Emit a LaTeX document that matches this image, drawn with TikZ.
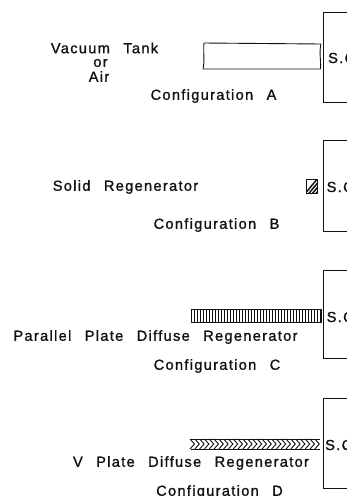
\documentclass[tikz,border=0pt]{standalone}
\usepackage{fontspec}
\setmainfont[LetterSpace=9,WordSpace=2.5,FakeBold=1.2]{Liberation Sans}
\definecolor{ink}{HTML}{111111}
\tikzset{
  lab/.style={inner sep=0pt,text=ink,font=\fontsize{14.6pt}{14pt}\selectfont,align=center},
  ln/.style={draw=ink,line width=0.9pt},
  reg/.style={draw=ink,line width=0.9pt,line join=round}
}
\begin{document}
\begin{tikzpicture}[x=1pt,y=-1pt]
\useasboundingbox (0,0) rectangle (347,496);
\fill[white] (0,0) rectangle (347,496);
\begin{scope}
\clip (0,0) rectangle (347,496);
% source boxes
\draw[ln] (347,12) -- (323,12) -- (323,102) -- (347,102);
\draw[ln] (347,140) -- (323,140) -- (323,231) -- (347,231);
\draw[ln] (347,270) -- (323,270) -- (323,358) -- (347,358);
\draw[ln] (347,398) -- (323,398) -- (323,488) -- (347,488);
\node[lab,anchor=west] (sa) at (328,58) {S.C.};
\node[lab,anchor=west] (sb) at (326.5,187) {S.C.};
\node[lab,anchor=west] (sc) at (326.5,317) {S.C.};
\node[lab,anchor=west] (sd) at (325,445) {S.C.};
% A tube
\draw[reg] (204,43) -- (321,44) .. controls (319,52) and (321,60) .. (320.5,69) -- (203,69) .. controls (205,60) and (203,52) .. (204,43) -- cycle;
% B hatched block
\fill[white] (306,179) rectangle (317,193);
\begin{scope}
\clip (306,179) rectangle (317,193);
\foreach \k in {0,3.6,...,28}
  \draw[ink,line width=1.5pt] (304+\k,195) -- (304+\k+14,178);
\end{scope}
\draw[ink,line width=1pt] (306,179) rectangle (317,193);
% C plates
\draw[reg] (191,309) rectangle (321,322);
\foreach \k in {0,...,42}
  \draw[ink,line width=0.8pt] (194+3*\k,309) -- (194+3*\k,322);
% D chevrons
\draw[ink,line width=0.8pt] (191,439) -- (320,439);
\draw[ink,line width=0.8pt] (191,449) -- (320,449);
\foreach \k in {0,...,26}
  \draw[ink,line width=0.9pt] (190+4.8*\k,439) -- (194.5+4.8*\k,444) -- (190+4.8*\k,449);
% labels
\node[lab] (ta) at (104.5,48) {Vacuum Tank};
\node[lab] (tor) at (100.5,63) {or};
\node[lab] (tair) at (99,76.5) {Air};
\node[lab] (ca) at (213.5,96) {Configuration A};
\node[lab] (tb) at (125.5,187) {Solid Regenerator};
\node[lab] (cb) at (216.5,225) {Configuration B};
\node[lab] (tc) at (155.5,337) {Parallel Plate Diffuse Regenerator};
\node[lab] (cc) at (217,366) {Configuration C};
\node[lab] (td) at (191,463) {V Plate Diffuse Regenerator};
\node[lab] (cd) at (219.5,492) {Configuration D};
\end{scope}
\end{tikzpicture}
\end{document}
